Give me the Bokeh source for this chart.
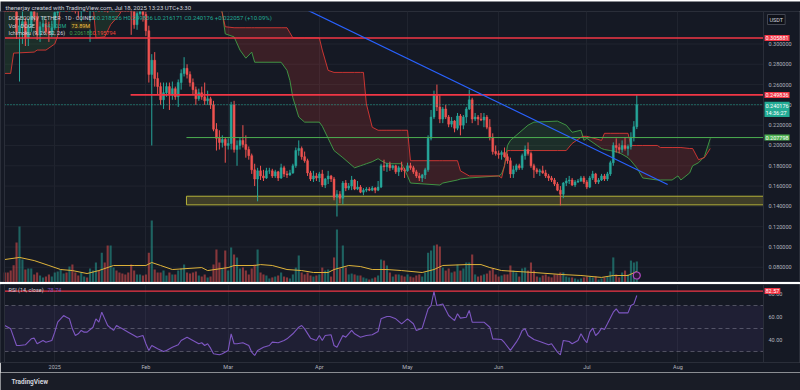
import numpy as np
import pandas as pd
from bokeh.plotting import figure
from bokeh.layouts import column
from bokeh.models import Range1d, FixedTicker, Label, Span, BoxAnnotation
from bokeh.core.properties import value
from bokeh.embed import file_html
from bokeh.resources import INLINE

# ---------------- data ----------------
dates = pd.date_range("2024-12-15", "2025-07-18", freq="D")
day = (dates - pd.Timestamp("2025-01-01")).days.to_numpy().astype(float)

dec_o = [.407, .404, .399, .385, .340, .312, .318, .322, .306, .317, .334, .327, .309, .317, .320, .312, .310]
dec_h = [.416, .422, .408, .392, .358, .325, .335, .326, .325, .339, .336, .331, .322, .327, .324, .322, .323]
dec_l = [.398, .390, .380, .335, .305, .263, .300, .298, .298, .312, .322, .304, .302, .312, .310, .302, .307]
dec_c = [.404, .399, .385, .340, .312, .318, .322, .306, .317, .334, .327, .309, .317, .320, .312, .310, .316]

jan_o = [.316, .331, .347, .381, .387, .378, .383, .356, .338, .332, .343, .347, .341, .349, .361, .382, .372, .394, .381, .356, .382, .386, .374, .370, .358, .351, .340, .336, .319, .330, .345]
jan_h = [.334, .353, .388, .395, .390, .402, .395, .361, .342, .358, .352, .350, .352, .365, .385, .390, .408, .398, .393, .435, .392, .398, .380, .378, .362, .356, .342, .340, .336, .350, .350]
jan_l = [.314, .328, .343, .375, .370, .375, .350, .330, .325, .322, .338, .335, .302, .345, .355, .365, .370, .370, .331, .335, .365, .370, .358, .355, .345, .335, .309, .315, .314, .328, .322]
jan_c = [.331, .347, .381, .387, .378, .383, .356, .338, .332, .343, .347, .341, .349, .361, .382, .372, .394, .381, .356, .382, .386, .374, .370, .358, .351, .340, .336, .319, .330, .345, .329]

feb_o = [.329, .313, .270, .284, .266, .258, .245, .252, .258, .250, .256, .248, .262, .271, .276, .270, .262, .255, .246, .252, .248, .244, .246, .240, .216, .207, .203, .206]
feb_h = [.332, .318, .290, .292, .272, .262, .262, .262, .262, .263, .258, .265, .275, .287, .280, .273, .266, .258, .256, .258, .262, .254, .248, .244, .222, .215, .210, .208]
feb_l = [.308, .262, .200, .258, .250, .240, .236, .248, .235, .245, .245, .238, .255, .268, .266, .258, .250, .240, .244, .245, .240, .240, .236, .214, .195, .196, .198, .183]
feb_c = [.313, .270, .284, .266, .258, .245, .252, .258, .250, .256, .248, .262, .271, .276, .270, .262, .255, .246, .252, .248, .244, .246, .240, .216, .207, .203, .206, .200]

mar_o = [.200, .202, .240, .196, .200, .205, .201, .196, .190, .176, .167, .175, .170, .168, .175, .175, .170, .174, .168, .178, .172, .171, .173, .180, .195, .197, .189, .185, .173, .167, .170]
mar_h = [.207, .243, .244, .205, .208, .220, .210, .199, .192, .182, .178, .180, .176, .178, .178, .177, .176, .175, .182, .180, .175, .176, .182, .198, .205, .199, .194, .187, .175, .175, .173]
mar_l = [.196, .196, .193, .180, .196, .198, .188, .186, .172, .160, .145, .166, .165, .167, .172, .168, .168, .165, .167, .169, .168, .170, .172, .178, .190, .186, .183, .170, .165, .164, .165]
mar_c = [.202, .240, .196, .200, .205, .201, .196, .190, .176, .167, .175, .170, .168, .175, .175, .170, .174, .168, .178, .172, .171, .173, .180, .195, .197, .189, .185, .173, .167, .170, .168]

apr_o = [.168, .172, .161, .167, .170, .167, .149, .152, .148, .163, .158, .160, .166, .157, .159, .154, .156, .157, .156, .158, .156, .159, .180, .179, .181, .178, .180, .174, .178, .176]
apr_h = [.174, .176, .168, .175, .171, .169, .156, .155, .165, .166, .163, .170, .167, .165, .161, .158, .159, .159, .160, .159, .165, .182, .186, .183, .184, .181, .181, .180, .184, .178]
apr_l = [.164, .159, .158, .162, .164, .146, .130, .143, .142, .155, .156, .156, .156, .156, .153, .151, .154, .155, .155, .153, .155, .158, .175, .174, .175, .176, .172, .170, .174, .168]
apr_c = [.172, .161, .167, .170, .167, .149, .152, .148, .163, .158, .160, .166, .157, .159, .154, .156, .157, .156, .158, .156, .159, .180, .179, .181, .178, .180, .174, .178, .176, .175]

may_o = [.175, .180, .178, .174, .170, .168, .171, .176, .207, .228, .250, .238, .226, .236, .228, .221, .224, .217, .229, .220, .228, .236, .245, .226, .228, .226, .225, .228, .218, .208, .194]
may_h = [.183, .183, .180, .176, .173, .172, .178, .210, .235, .254, .260, .250, .238, .240, .230, .228, .225, .232, .231, .230, .238, .255, .247, .232, .230, .232, .232, .230, .226, .212, .200]
may_l = [.174, .176, .172, .168, .165, .164, .167, .174, .205, .226, .234, .222, .222, .226, .218, .218, .213, .215, .210, .216, .222, .235, .222, .224, .220, .224, .218, .216, .205, .191, .190]
may_c = [.180, .178, .174, .170, .168, .171, .176, .207, .228, .250, .238, .226, .236, .228, .221, .224, .217, .229, .220, .228, .236, .245, .226, .228, .226, .225, .228, .218, .208, .194, .192]

jun_o = [.192, .191, .193, .189, .185, .172, .176, .180, .178, .190, .196, .192, .180, .176, .174, .175, .173, .170, .168, .166, .162, .156, .152, .163, .165, .166, .161, .164, .165, .168]
jun_h = [.195, .195, .198, .192, .188, .180, .182, .182, .192, .200, .203, .194, .182, .178, .177, .180, .176, .172, .170, .168, .164, .160, .164, .168, .170, .168, .166, .167, .170, .170]
jun_l = [.187, .186, .188, .182, .168, .168, .174, .176, .176, .186, .190, .178, .168, .172, .170, .172, .168, .165, .164, .160, .155, .141, .148, .160, .162, .160, .159, .163, .164, .162]
jun_c = [.191, .193, .189, .185, .172, .176, .180, .178, .190, .196, .192, .180, .176, .174, .175, .173, .170, .168, .166, .162, .156, .152, .163, .165, .166, .161, .164, .165, .168, .164]

jul_o = [.164, .159, .168, .172, .164, .166, .170, .167, .172, .183, .200, .198, .196, .200, .197, .199, .208, .218526]
jul_h = [.166, .170, .175, .173, .168, .172, .172, .174, .185, .203, .207, .202, .205, .208, .201, .213, .224, .249836]
jul_l = [.157, .158, .166, .162, .162, .165, .165, .165, .170, .180, .193, .192, .193, .195, .190, .196, .204, .216171]
jul_c = [.159, .168, .172, .164, .166, .170, .167, .172, .183, .200, .198, .196, .200, .197, .199, .208, .218526, .240176]

# volume (millions)
dec_v = [67, 67, 80, 115, 268, 375, 154, 87, 94, 94, 54, 67, 47, 34, 40, 54, 40]
jan_v = [67, 74, 87, 60, 67, 107, 120, 67, 47, 67, 40, 34, 94, 80, 134, 80, 200, 134, 248, 248, 100, 80, 67, 60, 54, 67, 120, 80, 54, 54, 47]
feb_v = [54, 200, 415, 87, 67, 67, 80, 47, 67, 54, 54, 80, 94, 120, 67, 60, 67, 74, 47, 40, 54, 34, 40, 120, 221, 134, 94, 214]
mar_v = [80, 235, 188, 168, 94, 100, 80, 54, 94, 120, 221, 67, 54, 47, 27, 34, 40, 47, 67, 40, 34, 27, 54, 100, 181, 67, 54, 67, 47, 40, 47]
apr_v = [54, 100, 80, 87, 40, 168, 355, 94, 248, 100, 54, 60, 54, 47, 47, 34, 27, 20, 27, 34, 47, 154, 147, 114, 67, 40, 54, 54, 47, 40]
may_v = [54, 40, 34, 47, 54, 40, 67, 200, 214, 248, 255, 241, 100, 80, 94, 67, 74, 120, 80, 94, 134, 134, 188, 54, 40, 47, 54, 60, 80, 94, 54]
jun_v = [40, 47, 54, 54, 114, 80, 67, 40, 94, 100, 80, 134, 80, 40, 34, 47, 54, 40, 34, 54, 54, 67, 67, 40, 34, 34, 27, 20, 27, 34]
jul_v = [40, 40, 34, 40, 20, 27, 34, 40, 74, 168, 54, 34, 67, 80, 54, 147, 134, 141]

vol_sma_days = [-17, -12, -7, -2, 2, 6, 11, 15, 20, 27, 31, 33, 36, 40, 50, 52, 59, 61, 68, 70, 74, 79, 84, 88, 93,
                95, 100, 104, 108, 113, 118, 125, 129, 132, 140, 145, 148, 152, 163, 172, 179, 186, 190, 195, 198]
vol_sma_vals = [154, 168, 147, 114, 87, 80, 60, 80, 114, 114, 114, 134, 114, 87, 100, 80, 100, 114, 114, 120, 114, 87, 80, 67, 67,
                87, 114, 107, 87, 87, 80, 67, 87, 114, 120, 120, 100, 80, 67, 54, 47, 34, 47, 47, 74]

# Ichimoku leading spans (day, span A, span B)
ichimoku = [(-17, .36, .271), (-15, .36, .271), (-14, .36, .291), (-7, .36, .292), (-6, .36, .294), (-3, .36, .294),
            (0, .36, .300), (1, .36, .308), (2, .37, .340), (13, .37, .340), (14, .36, .306), (17, .36, .307),
            (19, .36, .319), (22, .36, .329), (24, .36, .340), (56, .36, .340), (57, .331, .330), (58, .310, .317),
            (61, .307, .316), (63, .294, .316), (65, .286, .316), (67, .292, .316), (68, .282, .316), (77, .282, .316),
            (79, .274, .316), (80, .264, .311), (81, .247, .306), (83, .228, .306), (85, .223, .306), (90, .223, .306),
            (91, .219, .294), (93, .207, .274), (95, .195, .272), (98, .188, .272), (102, .178, .272), (104, .180, .272),
            (105, .181, .272), (106, .182, .241), (108, .184, .218), (110, .187, .215), (111, .185, .215), (113, .182, .215),
            (118, .182, .215), (120, .170, .215), (121, .163, .185), (131, .161, .185), (132, .163, .185), (137, .166, .185),
            (138, .167, .175), (141, .168, .170), (151, .170, .170), (152, .172, .168), (153, .180, .180), (154, .200, .195),
            (155, .205, .195), (161, .220, .195), (163, .223, .195), (171, .224, .195), (174, .220, .195), (176, .213, .202),
            (179, .215, .208), (180, .205, .209), (181, .207, .209), (186, .197, .205), (187, .196, .212), (189, .195, .212),
            (192, .193, .212), (195, .188, .212), (196, .185, .200), (198, .178, .200), (200, .168, .200), (205, .166, .200),
            (206, .166, .198), (210, .166, .198), (212, .170, .198), (213, .166, .198), (216, .173, .197), (217, .180, .197),
            (219, .183, .186), (221, .189, .188), (223, .207, .197)]

# RSI (14) (day, value)
rsi_points = [(-17, 52.6), (-15, 49.7), (-13, 35.2), (-12, 35.2), (-10, 35.8), (-8, 41.0), (-7, 41.6), (-6, 36.7),
              (-4, 39.6), (-3, 38.1), (-1, 39.6), (0, 46.8), (1, 55.5), (3, 61.3), (4, 59.8), (5, 58.4), (6, 49.7),
              (7, 43.9), (8, 45.4), (9, 48.3), (10, 46.8), (11, 46.8), (13, 51.1), (14, 58.4), (15, 55.5), (16, 64.2),
              (17, 58.4), (18, 52.6), (20, 48.3), (21, 52.6), (22, 51.1), (23, 49.7), (25, 46.8), (27, 43.9), (28, 42.4),
              (30, 43.9), (31, 36.7), (32, 30.9), (33, 35.2), (35, 32.3), (37, 30.0), (38, 30.9), (40, 33.7), (42, 35.8),
              (43, 39.6), (45, 42.4), (47, 39.6), (49, 36.7), (50, 37.6), (51, 35.2), (52, 36.7), (53, 32.9), (54, 28.0),
              (56, 27.1), (57, 28.0), (59, 30.9), (60, 45.4), (61, 36.7), (62, 36.7), (64, 37.6), (66, 35.2), (67, 29.4),
              (68, 26.5), (69, 30.9), (71, 33.7), (73, 35.2), (74, 38.1), (76, 37.6), (78, 39.6), (79, 41.0), (81, 45.4),
              (83, 51.1), (84, 52.6), (85, 49.7), (87, 41.6), (89, 39.6), (90, 43.9), (91, 39.6), (92, 43.9), (94, 44.5),
              (95, 35.2), (96, 33.7), (98, 43.9), (99, 42.4), (101, 48.3), (102, 45.4), (104, 42.4), (106, 43.9),
              (108, 44.5), (110, 47.4), (111, 58.4), (113, 60.4), (114, 60.4), (116, 58.4), (118, 54.0), (120, 58.4),
              (122, 54.1), (123, 48.3), (125, 50.3), (127, 67.1), (128, 70.0), (129, 82.2), (130, 70.0), (132, 71.4),
              (134, 61.3), (135, 59.0), (136, 57.0), (137, 62.8), (138, 59.0), (140, 59.8), (141, 65.7), (142, 55.5),
              (146, 55.5), (148, 51.1), (149, 41.0), (152, 40.4), (153, 37.6), (155, 30.9), (157, 38.1), (158, 42.4),
              (159, 48.3), (160, 49.7), (161, 43.9), (163, 40.4), (165, 38.7), (168, 35.8), (169, 36.7), (171, 29.4),
              (172, 27.1), (173, 39.6), (175, 38.7), (176, 36.7), (178, 39.6), (179, 45.4), (180, 41.0), (181, 37.6),
              (182, 46.8), (183, 50.3), (184, 43.9), (185, 46.3), (186, 50.3), (187, 49.1), (188, 54.1), (190, 64.2),
              (191, 67.1), (192, 63.6), (195, 63.6), (196, 70.0), (197, 71.4), (198, 78.7)]

# drawings
h_levels = [0.305881, 0.249836, 0.207798]
h_starts = [-17.1, 25.8, 44.8]
h_colors = ["#f23645", "#f23645", "#4caf50"]
last_price = 0.240176
zone_start, zone_low, zone_high = 44.8, 0.1415, 0.1500
trend_days = [84.0, 208.5]
trend_prices = [0.3361, 0.1616]
rsi_marker = 82.57
event_days = [198]          # event flag on the volume scale
event_levels = [47]

price_ticks = [0.08, 0.10, 0.12, 0.14, 0.16, 0.18, 0.20, 0.22, 0.24, 0.26, 0.28, 0.30]
price_tick_labels = ["0.080000", "0.100000", "0.120000", "0.140000", "0.160000", "0.180000", "0.200000",
                     "0.220000", "0.240000", "0.260000", "0.280000", "0.300000"]
rsi_ticks = [40, 60, 80]
rsi_tick_labels = ["40.00", "60.00", "80.00"]
month_ticks = [0, 31, 59, 90, 120, 151, 181, 212]
month_labels = ["2025", "Feb", "Mar", "Apr", "May", "Jun", "Jul", "Aug"]

# ---------------- assemble ----------------
O = np.array(dec_o + jan_o + feb_o + mar_o + apr_o + may_o + jun_o + jul_o)
H = np.array(dec_h + jan_h + feb_h + mar_h + apr_h + may_h + jun_h + jul_h)
L = np.array(dec_l + jan_l + feb_l + mar_l + apr_l + may_l + jun_l + jul_l)
C = np.array(dec_c + jan_c + feb_c + mar_c + apr_c + may_c + jun_c + jul_c)
V = np.array(dec_v + jan_v + feb_v + mar_v + apr_v + may_v + jun_v + jul_v, dtype=float)
n = len(day)
for arr in (O, H, L, C, V):
    assert len(arr) == n, (len(arr), n)

BG = "#151924"
GRID = "#20242f"
BORDER = "#2a2e39"
UP, DN = "#26a69a", "#ef5350"
TXT = "#b2b5be"
WHITE = "#d1d4dc"
FONT = "Roboto"
FS = "5.5px"
up = C >= O
col = np.where(up, UP, DN)

W = 800
LEFT_PX = 4            # strip left of the plotting area
PLOT_PX = 759          # plotting area width (price scale to its right)
X0, X_END = -17.1, 241.1
DPP = (X_END - X0) / PLOT_PX
XR = Range1d(X0 - LEFT_PX * DPP, X0 - LEFT_PX * DPP + W * DPP)
AX_X = X_END + 5 * DPP
TAG_X = X_END + 1 * DPP
SCALE_PX = LEFT_PX + PLOT_PX


def lab(fig, x, y, text, color, size=FS, xu="screen", yu="screen", bg=None, align="left",
        base="middle", pad=0, border=None, yoff=0, style="normal"):
    kw = dict(x=x, y=y, x_units=xu, y_units=yu, text=text, text_color=color, text_font_size=size,
              text_font=FONT, text_align=align, text_baseline=base, y_offset=yoff, text_font_style=style)
    if bg is not None:
        kw.update(background_fill_color=bg, background_fill_alpha=1.0, padding=pad)
    if border is not None:
        kw.update(border_line_color=border)
    fig.add_layout(Label(**kw))


def strip(height, bg):
    f = figure(width=W, height=height, x_range=Range1d(0, 1), y_range=Range1d(0, 1),
               output_backend="svg", toolbar_location=None, x_axis_location=None, y_axis_location=None,
               background_fill_color=bg, border_fill_color=bg, outline_line_color=None, min_border=0)
    f.line([0, 1], [0, 1], line_alpha=0)
    f.grid.visible = False
    return f


# header strip (page y 0-11)
hdr = strip(11, BG)
lab(hdr, 5, 5, "thenerjay created with TradingView.com, Jul 18, 2025 13:23 UTC+3:30", WHITE, size="6px")

# ---------------- price pane (page y 11-282) ----------------
P1H = 271
p1 = figure(width=W, height=P1H, x_range=XR, y_range=Range1d(0.065, 0.332),
            output_backend="svg", toolbar_location=None, x_axis_location=None, y_axis_location=None,
            background_fill_color=BG, border_fill_color=BG, outline_line_color=BORDER, min_border=0)
p1.extra_y_ranges = {"vol": Range1d(0, 1816)}
p1.xgrid.ticker = FixedTicker(ticks=month_ticks)
p1.xgrid.grid_line_color = GRID
p1.ygrid.visible = False
p1.segment(x0=[X0] * len(price_ticks), y0=price_ticks, x1=[X_END] * len(price_ticks), y1=price_ticks,
           line_color=GRID, line_width=1)

# Ichimoku cloud
ich_d = np.array([t[0] for t in ichimoku], dtype=float)
spanA = np.array([t[1] for t in ichimoku])
spanB = np.array([t[2] for t in ichimoku])
upper = np.maximum(spanA, spanB)
p1.varea(x=ich_d, y1=spanB, y2=upper, fill_color="#43a047", fill_alpha=0.16)
p1.varea(x=ich_d, y1=spanA, y2=upper, fill_color="#f44336", fill_alpha=0.17)
p1.line(ich_d, spanA, line_color="#43a047", line_width=1, line_alpha=0.9)
p1.line(ich_d, spanB, line_color="#e53935", line_width=1, line_alpha=0.85)

# volume
p1.vbar(x=day, top=V, bottom=0, width=0.72, y_range_name="vol", fill_color=col, line_color=None, fill_alpha=0.52)
p1.line(vol_sma_days, vol_sma_vals, y_range_name="vol", line_color="#e0b43a", line_width=1)
p1.scatter(event_days, event_levels, y_range_name="vol", size=7, marker="circle",
           fill_color="#2b1838", line_color="#ab47bc", line_width=1.2)

# support zone
p1.quad(left=[zone_start], right=[X_END], bottom=[zone_low], top=[zone_high],
        fill_color="#ffeb3b", fill_alpha=0.18, line_color="#b5b23a", line_width=1)

# candles
p1.segment(x0=day, y0=L, x1=day, y1=H, line_color=col, line_width=1)
p1.vbar(x=day, bottom=np.minimum(O, C), top=np.maximum(O, C), width=0.66, fill_color=col, line_color=col,
        line_width=0.5)

# horizontal levels, last price, trend line
p1.segment(x0=h_starts, y0=h_levels, x1=[X_END] * len(h_levels), y1=h_levels, line_color=h_colors,
           line_width=[1.6, 1.6, 1.0])
p1.segment(x0=[X0], y0=[last_price], x1=[X_END], y1=[last_price], line_color="#22ab94", line_dash="1 2",
           line_width=1)
p1.line(trend_days, trend_prices, line_color="#2962ff", line_width=1.2)

# pane borders and price scale
p1.add_layout(Span(location=X_END, dimension="height", line_color=BORDER, line_width=1))
p1.add_layout(Span(location=X0, dimension="height", line_color=BORDER, line_width=1))
p1.text(x=[AX_X] * len(price_ticks), y=price_ticks, text=price_tick_labels, text_color=TXT,
        text_font=value(FONT), text_font_size=value(FS), text_align="left", text_baseline="middle")

# legends
lab(p1, 8, P1H - 6, "DOGECOIN / TETHER · 1D · COINEX", WHITE)
lab(p1, 92, P1H - 6, "O0.218526 H0.249836 L0.216171 C0.240176 +0.022057 (+10.09%)", "#22ab94", size="6px")
lab(p1, 8, P1H - 14, "Vol · DOGE", WHITE)
lab(p1, 44, P1H - 14, "141.03M", "#22ab94")
lab(p1, 70, P1H - 14, "73.89M", "#f5c542", bg="#2a2a1e", pad=1)
lab(p1, 8, P1H - 21, "Ichimoku (9, 26, 52, 26)", WHITE)
lab(p1, 69, P1H - 21, "0.206185", "#43a047")
lab(p1, 92, P1H - 21, "0.195794", "#f44336")

# price tags
lab(p1, SCALE_PX + 4, P1H - 8, "USDT", WHITE, bg="#0e1017", pad=2, border="#434651")
lab(p1, TAG_X, h_levels[0], "0.305881", "#ffffff", xu="data", yu="data", bg="#f23645", pad=1)
lab(p1, TAG_X, h_levels[1], "0.249836", "#ffffff", xu="data", yu="data", bg="#f23645", pad=1)
lab(p1, TAG_X, last_price, "0.240176\n14:36:27", "#ffffff", xu="data", yu="data", bg="#22ab94", pad=1,
    base="top", yoff=3)
lab(p1, TAG_X, h_levels[2], "0.207798", "#ffffff", xu="data", yu="data", bg="#4caf50", pad=1)

# separator (page y 282-284)
sep = strip(2, "#434651")

# ---------------- RSI pane (page y 284-372) ----------------
P2H = 88
P2B = 10
RSI_LO, RSI_HI = 20.4, 88.3
p2 = figure(width=W, height=P2H, x_range=XR, y_range=Range1d(RSI_LO, RSI_HI),
            output_backend="svg", toolbar_location=None, y_axis_location=None,
            background_fill_color=BG, border_fill_color=BG, outline_line_color=BORDER,
            min_border_left=0, min_border_right=0, min_border_top=0, min_border_bottom=P2B)
p2.add_layout(BoxAnnotation(left=X0, right=X_END, bottom=30, top=70, fill_color="#7e57c2", fill_alpha=0.1,
                            line_color=None))
p2.segment(x0=[X0] * 3, y0=[70, 50, 30], x1=[X_END] * 3, y1=[70, 50, 30], line_color="#787b86",
           line_dash="4 3", line_width=1, line_alpha=0.6)
p2.segment(x0=[X0], y0=[rsi_marker], x1=[X_END], y1=[rsi_marker], line_color="#f23645", line_width=1.4)
p2.line([t[0] for t in rsi_points], [t[1] for t in rsi_points], line_color="#7e57c2", line_width=1.1)
p2.add_layout(Span(location=X_END, dimension="height", line_color=BORDER, line_width=1))
p2.add_layout(Span(location=X0, dimension="height", line_color=BORDER, line_width=1))
p2.text(x=[AX_X] * len(rsi_ticks), y=rsi_ticks, text=rsi_tick_labels, text_color=TXT,
        text_font=value(FONT), text_font_size=value(FS), text_align="left", text_baseline="middle")

p2.xaxis.ticker = FixedTicker(ticks=month_ticks)
p2.xaxis.major_label_overrides = {t: s for t, s in zip(month_ticks, month_labels)}
p2.xaxis.major_label_text_font_size = FS
p2.xaxis.major_label_text_color = TXT
p2.xaxis.major_label_text_font = FONT
p2.xaxis.major_tick_line_color = None
p2.xaxis.minor_tick_line_color = None
p2.xaxis.major_tick_out = 0
p2.xaxis.major_tick_in = 0
p2.xaxis.axis_line_color = None
p2.xaxis.major_label_standoff = 1
p2.xgrid.grid_line_color = GRID
p2.ygrid.visible = False

# RSI legend placed 5 px under the pane top (in value units so it never leaves the pane)
rsi_legend_y = RSI_HI - 5 * (RSI_HI - RSI_LO) / (P2H - P2B)
lab(p2, 8, rsi_legend_y, "RSI (14, close)", WHITE, yu="data")
lab(p2, 47, rsi_legend_y, "78.74", "#7e57c2", yu="data")
lab(p2, TAG_X, rsi_marker, "82.57", "#ffffff", xu="data", yu="data", bg="#f23645", pad=1)

# footer strip (page y 372-390)
ftr = strip(18, "#191c26")
lab(ftr, 11, 9, "TradingView", WHITE, size="6.5px", style="bold")

layout = column(hdr, p1, sep, p2, ftr, spacing=0)
html = file_html(layout, INLINE, title="DOGE/USDT")
html = html.replace("<body>", '<body style="background-color:#151924;">', 1)
open("out.html", "w").write(html)
